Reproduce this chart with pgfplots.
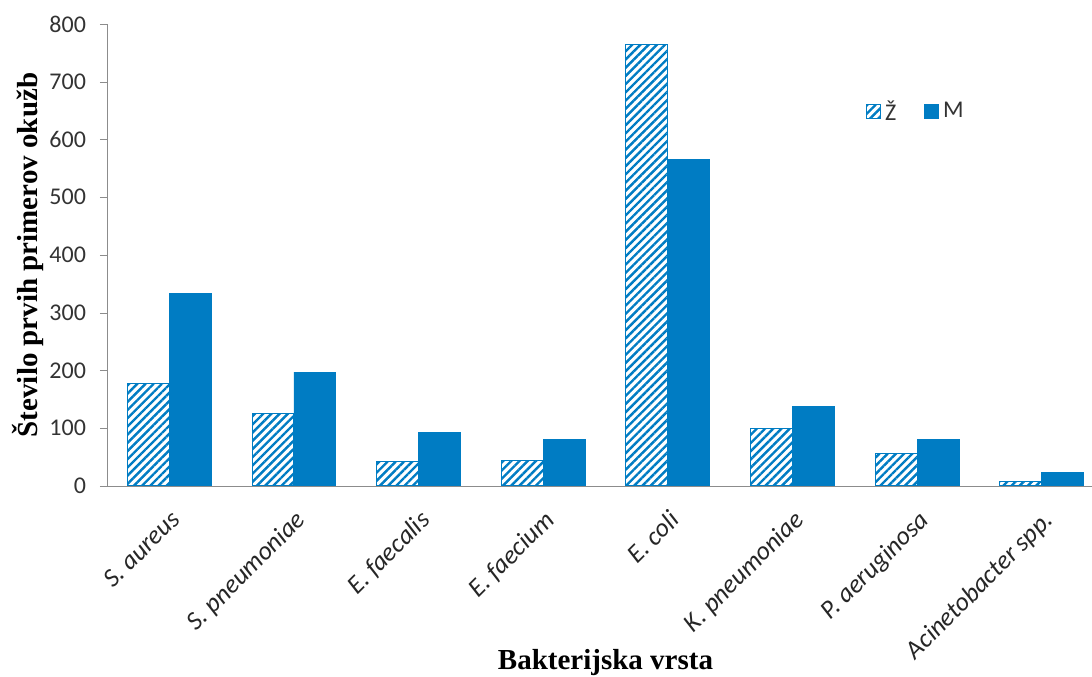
\documentclass[border=0pt]{standalone}
\usepackage{fontspec}
\setmainfont{Carlito}
\newfontfamily\serifbold{Liberation Serif}
\usepackage{pgfplots}
\pgfplotsset{compat=1.18}
\usetikzlibrary{patterns.meta}

\definecolor{barblue}{HTML}{007CC3}
\definecolor{axgray}{HTML}{8C8C8C}

\begin{document}
\begin{tikzpicture}
    \begin{axis}[
        name             = ax,
        scale only axis,
        width            = 498.5pt,
        height           = 231pt,
        ybar             = 0pt,
        bar width        = 0.336,
        xmin             = -0.5,
        xmax             = 7.5,
        ymin             = 0,
        ymax             = 800,
        axis lines       = left,
        axis line style  = {draw=axgray, -},
        tick align       = outside,
        major tick length= 3.5pt,
        minor tick length= 3.5pt,
        tick style       = {draw=axgray},
        xtick            = {0,...,7},
        xtick style      = {draw=none},
        minor xtick      = {-0.5,0.5,...,7.5},
        xticklabels      = {\textit{S. aureus}, \textit{S. pneumoniae}, \textit{E. faecalis}, \textit{E. faecium},
                            \textit{E. coli}, \textit{K. pneumoniae}, \textit{P. aeruginosa}, \textit{Acinetobacter spp.}},
        xticklabel style = {font=\fontsize{13}{15}\selectfont, text=black!85, yshift=-3pt, rotate=45, anchor=north east},
        ytick            = {0,100,...,800},
        yticklabel style = {font=\fontsize{12}{14}\selectfont, text=black!80, xshift=-3.5pt},
        /pgf/number format/assume math mode=true,
        xlabel           = {Bakterijska vrsta},
        ylabel           = {Število prvih primerov okužb},
        xlabel style     = {font=\serifbold\bfseries\fontsize{14.5}{16}\selectfont, at={(axis description cs:0.5,-0.398)}, anchor=base},
        ylabel style     = {font=\serifbold\bfseries\fontsize{14.5}{16}\selectfont, at={(axis description cs:-0.0792,0.5)}, anchor=center},
        legend columns   = 2,
        legend style     = {draw=none, fill=none, font=\fontsize{12}{14}\selectfont, text=black!80,
                            at={(rel axis cs:0.755,0.81)}, anchor=west,
                            /tikz/every even column/.append style={column sep=12pt}},
        legend image code/.code={\draw[#1] (0pt,-3.5pt) rectangle (7pt,3.5pt);},
    ]

    % Ž
    \addplot[draw=barblue, line width=0.5pt,
             pattern={Lines[angle=45,distance=2.9pt,line width=1.2pt]}, pattern color=barblue]
        coordinates {(0,178) (1,125) (2,42) (3,45) (4,764) (5,100) (6,57) (7,7)};

    % M
    \addplot[draw=barblue, fill=barblue]
        coordinates {(0,334) (1,197) (2,92) (3,80) (4,566) (5,138) (6,81) (7,24)};

    \legend{Ž, M}
    \end{axis}

    \pgfresetboundingbox
    \path[use as bounding box] ([xshift=-53.5pt,yshift=-95.5pt]ax.south west) rectangle ([xshift=-6pt,yshift=12pt]ax.north east);
\end{tikzpicture}
\end{document}
